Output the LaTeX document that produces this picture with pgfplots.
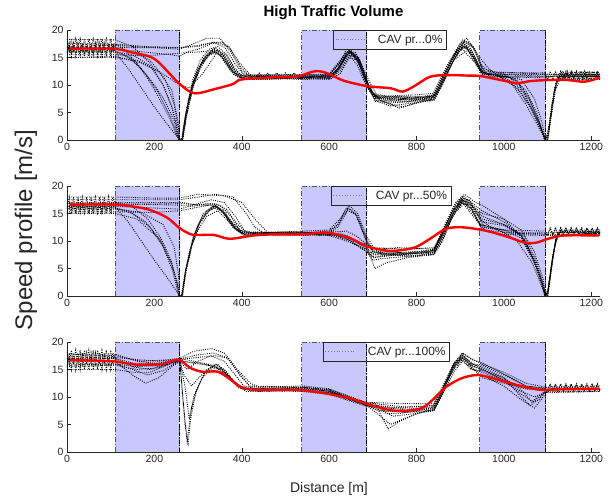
\documentclass[border=0pt]{standalone}
\usepackage{fontspec}
\setmainfont{Liberation Sans}
\usepackage{pgfplots}
\pgfplotsset{compat=1.18}
\definecolor{axgray}{HTML}{262626}
\definecolor{boxfill}{RGB}{200,200,255}
\definecolor{boxedge}{HTML}{555555}
\pgfplotsset{
  panel/.style={
    scale only axis, width=533pt, height=110pt,
    xmin=0, xmax=1220, ymin=0, ymax=20,
    xtick={0,200,...,1200}, ytick={0,5,...,20},
    axis x line*=bottom, axis y line*=left,
    axis line style={draw=axgray, line width=0.5pt, -},
    tick style={draw=axgray, line width=0.5pt}, tick align=inside,
    major tick length=4pt,
    tick label style={font=\fontsize{10.5}{12}\selectfont, text=axgray},
    /pgf/number format/assume math mode=true,
    /pgf/number format/1000 sep={},
    no markers,
    legend style={anchor=north west, draw=axgray, fill=none,
      font=\fontsize{12}{14}\selectfont, text=axgray,
      inner xsep=2pt, inner ysep=2.5pt, legend cell align=left},
    legend image code/.code={\draw[#1] (0pt,0pt) -- (30pt,0pt); \path (40pt,0pt);},
  },
  traj/.style={black, dash pattern=on 0.9pt off 1.3pt, line width=0.9pt, forget plot},
  mean/.style={red, line width=2.4pt, smooth, forget plot},
  zone/.style={fill=boxfill, draw=boxedge,
    dash pattern=on 5pt off 2pt on 1pt off 2pt, line width=0.8pt, forget plot},
  light/.style={black, dash pattern=on 4pt off 1.5pt on 1pt off 1.5pt, line width=0.6pt, forget plot},
}
\begin{document}
\begin{tikzpicture}
\useasboundingbox (0,0) rectangle (614pt,502pt);

% ---------- panel 1 : 0 % ----------
\begin{axis}[panel, at={(67pt,362pt)}, anchor=south west,
  legend style={at={(0.499,1)}}]
\addplot[zone] coordinates {(110,0)(110,20)(258,20)(258,0)(110,0)};
\addplot[zone] coordinates {(537,0)(537,20)(685,20)(685,0)(537,0)};
\addplot[zone] coordinates {(945,0)(945,20)(1095,20)(1095,0)(945,0)};
\addplot[traj] coordinates {(0,15.2)(5,17.6)(10,15.2)(15,17.6)(20,15.2)(25,17.6)(30,15.2)(35,17.6)(40,15.2)(45,17.6)(50,15.2)(55,17.6)(60,15.2)(65,17.6)(70,15.2)(75,17.6)(80,15.2)(85,17.6)(90,15.2)(95,17.6)(100,15.2)(105,17.6)(110,16)(140,15)(170,13)(200,10)(225,7)(245,3.5)(256,0)(262,0)(268,3)(280,8)(295,12)(315,15)(335,16.2)(350,15.5)(370,13)(390,11.5)(410,11.2)(450,11.5)(500,11.3)(560,11.6)(600,11.4)(620,13)(645,16.3)(665,14.5)(685,10)(700,8)(730,7.2)(800,7.5)(835,8)(860,12)(885,15.5)(910,17.2)(930,15)(950,12)(980,11.8)(1010,11)(1040,8.5)(1065,5.5)(1085,2)(1095,0)(1100,0.5)(1108,5)(1118,9.5)(1128,11.8)(1220,11.8)};
\addplot[traj] coordinates {(0,18.4)(5,16.3)(10,18.4)(15,16.3)(20,18.4)(25,16.3)(30,18.4)(35,16.3)(40,18.4)(45,16.3)(50,18.4)(55,16.3)(60,18.4)(65,16.3)(70,18.4)(75,16.3)(80,18.4)(85,16.3)(90,18.4)(95,16.3)(100,18.4)(105,16.3)(110,17.5)(130,16.5)(160,14)(190,10.5)(215,7)(235,4)(250,1)(257,0)(263,0)(270,4)(285,9.5)(300,13)(320,15.5)(340,16.8)(360,15)(380,12.5)(400,11.3)(480,11.6)(540,11.3)(600,11.8)(625,14)(640,16.6)(660,15.5)(680,11.5)(700,8.5)(720,7.5)(780,7)(840,7.8)(860,11)(880,14.5)(905,17.8)(925,16.5)(945,13)(960,12)(1000,12)(1030,10.5)(1060,7)(1080,3.5)(1094,0)(1102,1)(1110,6.5)(1120,10.5)(1130,11.2)(1220,11.2)};
\addplot[traj] coordinates {(0,15.5)(110,15.5)(180,15.3)(258,15.8)(300,16)(340,16.3)(365,15.5)(385,13)(400,11.5)(420,11)(480,11.2)(540,11)(600,11.2)(630,14)(648,16.2)(670,14)(690,9.5)(710,7.5)(760,5.8)(790,6.5)(840,7.5)(865,12)(895,16.5)(915,16.8)(940,13.5)(955,12)(1000,11.5)(1095,11.3)(1120,11.7)(1130,11)(1135,12.5)(1140,11)(1145,12.5)(1150,11)(1155,12.5)(1160,11)(1165,12.5)(1170,11)(1175,12.5)(1180,11)(1185,12.5)(1190,11)(1195,12.5)(1200,11)(1205,12.5)(1210,11)(1215,12.5)(1220,11)};
\addplot[traj] coordinates {(0,17)(110,17.2)(200,16.8)(258,16.5)(290,17.5)(320,18.5)(350,18.5)(375,16)(400,12.5)(420,11.6)(480,11.8)(540,11.7)(600,11.9)(630,14.5)(650,16)(675,13)(695,9)(720,7)(770,6)(810,7)(845,8.5)(870,13)(900,17.5)(915,18.5)(935,16)(955,12.5)(1000,12.3)(1095,12)(1220,11.8)};
\addplot[traj] coordinates {(0,16)(110,16)(150,15.5)(190,13.5)(220,10)(240,6)(252,2)(258,0)(264,0)(275,6)(290,10.5)(310,14)(330,15.8)(345,16)(360,14.5)(380,12)(400,11)(460,11)(540,11.4)(605,11.2)(625,13.5)(643,15.8)(665,13.5)(685,9.8)(705,7.5)(760,7.6)(830,7.2)(850,9)(875,13)(900,16.5)(920,16)(945,12.5)(970,11.5)(1020,11.4)(1050,9)(1075,5)(1092,0.5)(1096,0)(1104,3)(1115,9)(1125,12)(1220,12)};
\addplot[traj] coordinates {(0,15)(110,15.2)(170,14)(220,12)(258,10)(280,9.5)(310,12)(340,15.5)(360,15.5)(380,13)(400,11.8)(540,11.5)(600,11.3)(625,12.5)(645,15)(665,14.5)(685,10.5)(705,7)(760,6.8)(840,7.3)(860,10.5)(885,14.5)(910,16)(935,14)(955,11.5)(1095,11.5)(1220,11.5)};
\addplot[traj] coordinates {(0,15.8)(5,17)(10,15.8)(15,17)(20,15.8)(25,17)(30,15.8)(35,17)(40,15.8)(45,17)(50,15.8)(55,17)(60,15.8)(65,17)(70,15.8)(75,17)(80,15.8)(85,17)(90,15.8)(95,17)(100,15.8)(105,17)(110,16.5)(150,16.2)(200,15.8)(240,15.5)(258,15.2)(275,16)(300,16.5)(330,17.5)(355,17.8)(375,16.5)(395,13.5)(415,11.8)(430,11.2)(440,12.2)(450,11.2)(460,12.2)(470,11.2)(480,12.2)(490,11.2)(500,12.2)(510,11.2)(520,12.2)(530,11.2)(540,11.5)(600,11.5)(620,12.5)(640,15.5)(665,15)(685,11)(700,8.5)(730,8)(800,8.2)(840,8.5)(860,11.5)(885,15)(910,18)(930,17)(950,13.5)(970,12.2)(1095,12.2)(1100,11)(1106,12.5)(1112,11)(1118,12.5)(1124,11)(1130,12.5)(1136,11)(1142,12.5)(1148,11)(1154,12.5)(1160,11)(1166,12.5)(1172,11)(1178,12.5)(1184,11)(1190,12.5)(1196,11)(1202,12.5)(1208,11)(1214,12.5)(1220,11)};
\addplot[traj] coordinates {(0,16.8)(110,16.8)(258,16.8)(300,17.2)(340,17.8)(370,17)(395,14)(420,11.8)(540,11.8)(600,12)(640,16)(660,16)(690,11)(710,8)(800,7.8)(840,8.2)(870,13.5)(905,18.2)(925,17.5)(945,15)(965,13)(990,11.5)(1030,9.5)(1060,6)(1085,2)(1093,0)(1100,0)(1106,3.5)(1118,10)(1130,12.3)(1220,12.3)};
\addplot[traj] coordinates {(0,18.3)(110,18.2)(150,17)(190,14)(220,10)(240,6)(250,3)(256,0.5)(258,0)(264,0)(272,5)(288,11)(305,14.5)(325,16.5)(345,17)(365,15.5)(385,12.5)(405,11)(540,11.2)(600,11)(625,12)(650,15.5)(672,14)(690,10)(710,7)(740,6.2)(800,6.8)(840,7.2)(860,10)(890,15.5)(912,17)(935,14.5)(955,12)(1000,11.5)(1040,11)(1070,7.5)(1088,3)(1095,0)(1100,0)(1108,4)(1118,9)(1128,11)(1220,11)};
\addplot[traj] coordinates {(0,15)(110,15)(160,14.5)(210,12.5)(240,9)(255,3)(258,0)(265,0.5)(275,5)(290,10)(305,13)(325,15.5)(345,15.8)(365,14)(385,12)(410,11.5)(540,11.6)(610,11.6)(630,13.5)(650,16)(668,15)(688,10.5)(705,7.8)(780,7.5)(840,8)(858,10.5)(880,14)(905,16.8)(920,17)(942,14)(960,12)(1095,11.6)(1220,11.6)};
\addplot[traj] coordinates {(0,16.2)(110,16.2)(145,15)(180,12)(210,8.5)(235,4.5)(250,1.5)(257,0)(263,0)(270,3.5)(283,8.5)(298,12.5)(318,15.2)(338,16)(355,15.2)(375,12.8)(395,11.6)(540,11.5)(605,11.5)(628,13.8)(646,16)(668,14.2)(686,10.2)(703,8)(750,7.3)(835,7.6)(856,10.5)(882,15)(907,17.6)(928,15.8)(948,12.5)(975,11.9)(1015,11.3)(1045,8.5)(1072,4.5)(1090,1)(1095,0)(1101,1)(1110,6)(1120,10.5)(1130,11.5)(1220,11.5)};
\addplot[traj] coordinates {(0,17.5)(110,17.4)(180,17)(258,16.8)(300,17)(335,17.8)(362,16.8)(385,13.8)(405,11.8)(540,11.9)(600,11.7)(630,14.8)(650,16.3)(670,14.5)(690,10)(708,7.8)(780,7.8)(840,7.9)(862,11.5)(888,16)(910,17.8)(930,16.8)(950,13)(1000,11.9)(1095,11.9)(1220,11.9)};
\addplot[traj] coordinates {(0,16.5)(110,16.5)(150,16)(190,14.5)(225,11)(245,6.5)(255,2)(258,0)(265,0)(273,4)(288,9.5)(305,13.5)(328,15.9)(348,16.3)(368,14.3)(390,11.9)(420,11.4)(540,11.3)(600,11.6)(622,13)(642,16.1)(662,15)(683,10.8)(700,8.2)(740,7.8)(840,7.7)(858,10)(880,13.8)(905,17)(925,16.2)(948,12.2)(1000,11.7)(1030,10.8)(1058,7.5)(1082,3)(1095,0)(1100,0)(1107,3.8)(1117,9.5)(1127,11.6)(1220,11.6)};
\addplot[traj] coordinates {(0,16)(110,16)(140,13)(170,9.5)(200,6)(228,3)(248,1)(258,0)(264,0)(272,4.5)(290,10.8)(312,14.8)(335,16.6)(355,15.8)(378,12.6)(400,11.2)(540,11.2)(600,11.3)(625,13.2)(645,16.2)(666,14.8)(688,10)(706,7.2)(760,7)(838,7.4)(858,10.8)(882,14.8)(906,17.2)(928,15.5)(950,12.2)(990,11.6)(1020,10)(1050,6.5)(1075,3)(1095,0)(1102,1.5)(1112,7.5)(1124,11.5)(1220,11.5)};
\addplot[light] coordinates {(258,0)(258,20)};
\addplot[light] coordinates {(685,0)(685,20)};
\addplot[light] coordinates {(1095,0)(1095,20)};
\addplot[mean] coordinates {(6,16.6)(104,16.6)(150,15.9)(201,14.7)(255,10.4)(291,8.5)(340,9.3)(381,10.2)(399,11)(471,11.4)(525,11.5)(561,12.4)(578,12.5)(597,12.1)(633,10.8)(687,9.8)(741,9.4)(768,8.8)(795,9.8)(831,11.5)(870,11.8)(921,11.7)(948,11.6)(1011,10.6)(1029,10.3)(1060,10.7)(1101,10.9)(1146,10.9)(1185,10.6)(1218,11.3)};
\addlegendimage{gray, dotted, line width=0.8pt}
\addlegendentry{CAV pr...0\%\hspace{16pt}}
\end{axis}

% ---------- panel 2 : 50 % ----------
\begin{axis}[panel, at={(67pt,206pt)}, anchor=south west,
  legend style={at={(0.495,1)}}]
\addplot[zone] coordinates {(110,0)(110,20)(258,20)(258,0)(110,0)};
\addplot[zone] coordinates {(537,0)(537,20)(685,20)(685,0)(537,0)};
\addplot[zone] coordinates {(945,0)(945,20)(1095,20)(1095,0)(945,0)};
\addplot[traj] coordinates {(0,15.5)(5,18)(10,15.5)(15,18)(20,15.5)(25,18)(30,15.5)(35,18)(40,15.5)(45,18)(50,15.5)(55,18)(60,15.5)(65,18)(70,15.5)(75,18)(80,15.5)(85,18)(90,15.5)(95,18)(100,15.5)(105,18)(110,17)(200,17)(258,17)(262,17)(300,16.5)(330,16.5)(345,16)(370,14)(395,12)(420,11.3)(540,11.4)(600,11.5)(620,13)(640,16)(660,15)(685,10)(700,8)(730,7.5)(800,7.2)(840,8)(860,12)(885,15.5)(905,17.5)(925,16)(945,13)(1000,12)(1040,10.5)(1070,6)(1090,1.5)(1095,0)(1100,0.5)(1110,6)(1120,10.5)(1130,11.8)(1220,11.8)};
\addplot[traj] coordinates {(0,16)(110,16)(150,15)(190,12.5)(220,9)(242,4.5)(256,0)(262,0)(268,3)(280,8)(298,12.5)(320,15.5)(340,16.5)(360,15)(385,12.2)(405,11)(540,11.2)(600,11)(640,10)(685,8.5)(700,7)(740,7.5)(800,8)(840,8.5)(860,12)(885,16)(905,18)(925,17)(945,14)(970,12.5)(1000,11.5)(1095,11.3)(1100,11)(1106,12.3)(1112,11)(1118,12.3)(1124,11)(1130,12.3)(1136,11)(1142,12.3)(1148,11)(1154,12.3)(1160,11)(1166,12.3)(1172,11)(1178,12.3)(1184,11)(1190,12.3)(1196,11)(1202,12.3)(1208,11)(1214,12.3)(1220,11)};
\addplot[traj] coordinates {(0,17.5)(110,17.5)(258,17.5)(300,18)(340,18.5)(380,18)(410,15)(430,12.5)(450,11.5)(540,11.8)(600,12)(625,14)(645,16.5)(665,15)(685,11)(700,9)(720,7.5)(800,7.8)(840,8.2)(865,13)(890,17)(910,18.5)(935,17)(950,16.5)(1000,14)(1050,10)(1080,4)(1094,0)(1100,0)(1108,4.5)(1118,10)(1130,12)(1220,12)};
\addplot[traj] coordinates {(0,15)(110,15)(160,14)(210,10.5)(240,6)(252,2)(258,0)(263,0)(272,5)(290,11)(310,14.5)(335,16)(355,15.5)(375,13)(400,11.5)(540,11)(600,11.3)(640,11)(685,9)(705,5)(730,6)(780,7)(840,7.5)(860,10)(880,14)(905,17)(925,15)(950,12.5)(990,12)(1030,10)(1065,6)(1088,1.5)(1095,0)(1102,1.5)(1112,7.5)(1125,11.5)(1220,11.5)};
\addplot[traj] coordinates {(0,16.8)(110,16.8)(258,16.5)(290,16.3)(320,16.8)(350,16.5)(375,14.5)(395,12)(420,11.5)(540,11.6)(600,11.5)(640,10.5)(685,8)(705,7)(760,7.5)(840,7.8)(862,11)(885,15)(905,17.2)(925,16)(950,12)(1000,11.2)(1095,11)(1220,11)};
\addplot[traj] coordinates {(0,16.3)(110,16.3)(200,16)(258,15.8)(300,16.8)(330,17.5)(360,17)(385,14.5)(405,12)(430,11.3)(540,11.3)(580,11.5)(610,11)(650,10)(685,9.5)(705,8.5)(760,8.8)(840,8.5)(860,11)(885,15)(905,17.5)(925,16.5)(950,14.5)(1000,13)(1040,11)(1070,6.5)(1090,2)(1095,0)(1100,0)(1108,5)(1120,11)(1220,11.5)};
\addplot[traj] coordinates {(0,15)(5,16.5)(10,15)(15,16.5)(20,15)(25,16.5)(30,15)(35,16.5)(40,15)(45,16.5)(50,15)(55,16.5)(60,15)(65,16.5)(70,15)(75,16.5)(80,15)(85,16.5)(90,15)(95,16.5)(100,15)(105,16.5)(110,16)(140,15.5)(180,13.5)(215,10)(238,6)(252,2.5)(258,0)(264,0)(272,4.5)(288,10)(305,13.5)(325,15.5)(345,16.2)(365,14.5)(388,12)(410,11.2)(540,11.5)(600,11.8)(620,13)(645,16)(665,14.5)(685,10.5)(700,8)(760,7.5)(830,8)(850,9.5)(875,13.5)(900,17)(920,17.5)(940,15)(955,12.5)(1000,12)(1095,11.8)(1100,11.2)(1106,12.4)(1112,11.2)(1118,12.4)(1124,11.2)(1130,12.4)(1136,11.2)(1142,12.4)(1148,11.2)(1154,12.4)(1160,11.2)(1166,12.4)(1172,11.2)(1178,12.4)(1184,11.2)(1190,12.4)(1196,11.2)(1202,12.4)(1208,11.2)(1214,12.4)(1220,11.2)};
\addplot[traj] coordinates {(0,18)(110,18)(200,17.8)(258,17.8)(300,18.5)(360,18.2)(400,17)(430,14)(460,11.5)(540,11.5)(600,11.6)(640,11.8)(660,11)(685,9.5)(700,8.8)(780,8.5)(840,8.8)(870,13)(900,17.5)(920,17)(950,15)(1000,14)(1040,12)(1070,8)(1090,3)(1095,0)(1100,0)(1106,3)(1116,9)(1128,11.7)(1220,11.7)};
\addplot[traj] coordinates {(0,15.8)(110,15.8)(170,15.2)(220,13)(245,9)(255,4)(258,0)(262,0)(270,4)(285,9)(300,12)(320,14.5)(345,15.5)(370,13.5)(395,11.5)(540,11.2)(600,11)(625,11.5)(650,10.5)(685,8.5)(700,7.5)(780,7.3)(840,7.6)(860,10.5)(885,15)(910,16.8)(930,15)(955,12)(1000,11.6)(1050,11.3)(1095,11.2)(1220,11.2)};
\addplot[traj] coordinates {(0,16.5)(110,16.6)(258,16.8)(300,16.6)(340,16.8)(365,15.8)(388,13.2)(410,11.6)(540,11.4)(600,11.4)(620,12.5)(642,15.5)(662,14.8)(685,10.2)(702,8.2)(780,7.8)(840,8.2)(862,11.8)(886,15.8)(906,17.8)(926,16.5)(948,13.5)(1000,12.8)(1040,11)(1068,7)(1088,2.5)(1095,0)(1101,1)(1110,6)(1120,10.6)(1130,11.6)(1220,11.6)};
\addplot[traj] coordinates {(0,17)(110,17)(150,16.2)(185,14)(215,10.5)(238,6.5)(252,2.5)(258,0)(264,0)(272,4.2)(287,9.5)(304,13.2)(325,15.6)(342,16.4)(362,15)(386,12.3)(408,11.1)(540,11.1)(600,11.2)(640,10.8)(685,8.8)(702,7.6)(760,7.9)(840,8.3)(860,11.5)(884,15.6)(904,17.5)(924,16.5)(946,13)(980,12.3)(1030,11.5)(1095,11.5)(1220,11.5)};
\addplot[traj] coordinates {(0,15.3)(110,15.3)(200,15.2)(258,15.5)(290,16)(330,16.6)(355,15.8)(380,13.2)(402,11.6)(540,11.6)(600,11.3)(645,10.2)(685,8.2)(700,6.5)(720,6.8)(780,7.2)(840,7.6)(862,10.8)(886,15.2)(906,17)(926,15.8)(950,14)(1000,13)(1045,11)(1072,6.8)(1090,2.2)(1095,0)(1100,0)(1109,5.5)(1120,10.8)(1220,11.6)};
\addplot[traj] coordinates {(0,16.2)(110,16.2)(140,13.5)(170,10)(200,6.5)(228,3.5)(248,1.2)(258,0)(264,0)(272,4.8)(290,11)(312,15)(335,16.4)(356,15.4)(380,12.4)(402,11.3)(540,11.3)(600,11.2)(645,10.6)(685,9.2)(705,8)(770,7.6)(840,8)(862,12)(886,16.4)(906,18.2)(926,17)(950,15.5)(1000,13.5)(1040,10.8)(1068,6.5)(1088,2)(1095,0)(1101,1.2)(1111,6.8)(1122,11)(1220,11.4)};
\addplot[light] coordinates {(258,0)(258,20)};
\addplot[light] coordinates {(685,0)(685,20)};
\addplot[light] coordinates {(1095,0)(1095,20)};
\addplot[mean] coordinates {(6,16.6)(111,16.6)(183,15.8)(228,14.3)(255,12.5)(273,11.6)(291,11.1)(336,11.1)(372,10.4)(426,11)(471,11.2)(534,11.2)(597,11.5)(651,10.4)(687,9)(741,8.2)(795,8.8)(831,10.4)(867,12.2)(903,12.5)(957,11.9)(1011,10.7)(1047,9.7)(1074,9.7)(1101,10.4)(1137,11)(1218,11)};
\addlegendimage{gray, dotted, line width=0.8pt}
\addlegendentry{CAV pr...50\%\hspace{14pt}}
\end{axis}

% ---------- panel 3 : 100 % ----------
\begin{axis}[panel, at={(67pt,50pt)}, anchor=south west,
  legend style={at={(0.48,1)}}]
\addplot[zone] coordinates {(110,0)(110,20)(258,20)(258,0)(110,0)};
\addplot[zone] coordinates {(537,0)(537,20)(685,20)(685,0)(537,0)};
\addplot[zone] coordinates {(945,0)(945,20)(1095,20)(1095,0)(945,0)};
\addplot[traj] coordinates {(0,15)(5,18)(10,15)(15,18)(20,15)(25,18)(30,15)(35,18)(40,15)(45,18)(50,15)(55,18)(60,15)(65,18)(70,15)(75,18)(80,15)(85,18)(90,15)(95,18)(100,15)(105,18)(110,17)(150,15.5)(190,15)(230,16)(258,17)(290,16.5)(320,16)(350,15.5)(375,13.5)(400,11.5)(440,11)(540,11.3)(600,10.8)(685,9)(705,8.8)(730,7)(760,7)(800,7.5)(835,8)(860,12)(885,16)(905,17.2)(925,15.5)(950,13.5)(1000,12.5)(1050,11.5)(1095,11.3)(1100,11)(1106,12.3)(1112,11)(1118,12.3)(1124,11)(1130,12.3)(1136,11)(1142,12.3)(1148,11)(1154,12.3)(1160,11)(1166,12.3)(1172,11)(1178,12.3)(1184,11)(1190,12.3)(1196,11)(1202,12.3)(1208,11)(1214,12.3)(1220,11)};
\addplot[traj] coordinates {(0,16.5)(110,16.5)(150,14)(180,12.5)(210,13.5)(240,15.5)(258,16.5)(275,15)(300,16.5)(330,17.5)(360,16.5)(385,14)(405,12)(430,11.5)(540,11.8)(600,11)(685,8.5)(710,8)(735,4.2)(760,5.5)(800,7)(840,7.5)(860,11)(885,15.5)(905,17.8)(925,16)(950,15.5)(1000,13.5)(1040,10)(1060,8.5)(1080,9.5)(1095,11)(1110,11.5)(1220,11.5)};
\addplot[traj] coordinates {(0,15.5)(110,15.8)(160,15)(210,15.3)(258,16.8)(265,10)(275,2)(285,8)(300,12)(320,15)(345,16)(365,14)(390,12)(420,11.2)(540,11)(600,10.5)(685,8.3)(700,8.5)(740,8)(800,8.2)(840,8.5)(860,11.5)(885,15)(905,16.8)(925,15)(950,14.8)(1000,13)(1050,11.5)(1095,11.2)(1220,11.5)};
\addplot[traj] coordinates {(0,17.8)(110,17.5)(170,16.5)(220,16.7)(258,17)(290,18.3)(330,18.8)(360,18)(390,15)(420,12.5)(440,11.8)(540,12)(600,11.5)(685,9)(705,9)(760,8.8)(840,8.8)(862,12)(885,16)(905,18)(925,17)(950,16)(1000,14.5)(1050,12.5)(1095,11.8)(1220,12)};
\addplot[traj] coordinates {(0,15)(110,15)(150,14.5)(190,14.5)(230,15.8)(258,16.5)(270,12)(280,6)(290,10)(310,13.5)(335,15.5)(360,15)(385,12.5)(410,11)(540,11.2)(600,10.8)(685,8.5)(710,7)(740,5)(770,6)(810,7.2)(840,7.8)(865,12.5)(890,16.5)(910,17)(930,15)(950,14)(1000,12)(1040,9.5)(1070,8)(1090,10)(1100,11)(1220,11)};
\addplot[traj] coordinates {(0,18.5)(5,16)(10,18.5)(15,16)(20,18.5)(25,16)(30,18.5)(35,16)(40,18.5)(45,16)(50,18.5)(55,16)(60,18.5)(65,16)(70,18.5)(75,16)(80,18.5)(85,16)(90,18.5)(95,16)(100,18.5)(105,16)(110,17.8)(160,16.5)(210,16)(258,16.8)(300,17.2)(340,17.5)(370,17)(395,14)(420,11.8)(540,11.8)(600,11.3)(685,8.7)(705,8.5)(780,7.8)(840,8.2)(862,11.5)(885,15.8)(905,17.5)(930,16)(950,15.8)(1000,14)(1050,12)(1095,11.5)(1100,11.2)(1106,12.4)(1112,11.2)(1118,12.4)(1124,11.2)(1130,12.4)(1136,11.2)(1142,12.4)(1148,11.2)(1154,12.4)(1160,11.2)(1166,12.4)(1172,11.2)(1178,12.4)(1184,11.2)(1190,12.4)(1196,11.2)(1202,12.4)(1208,11.2)(1214,12.4)(1220,11.2)};
\addplot[traj] coordinates {(0,16)(110,16)(160,15.5)(210,15.8)(258,16.5)(300,16.2)(340,15.5)(370,13.5)(395,11.5)(540,11.5)(600,11)(685,8.7)(710,7.5)(780,7.2)(840,7.6)(860,10.5)(885,14.5)(905,16.5)(930,15)(950,14.5)(1000,12.8)(1040,11)(1070,10)(1095,10.8)(1220,11)};
\addplot[traj] coordinates {(0,17)(110,17)(160,16)(210,16.2)(258,16.8)(270,5)(277,1.5)(283,6)(295,11)(315,14.5)(340,16)(360,15)(385,12.5)(410,11.3)(540,11.6)(600,11.2)(685,8.5)(720,7.5)(790,7.4)(840,7.9)(860,11)(885,15.5)(905,17)(930,15.5)(950,15)(1000,13.5)(1040,11.3)(1065,9)(1090,10.5)(1100,11.3)(1220,11.3)};
\addplot[traj] coordinates {(0,16.8)(110,16.6)(160,15.8)(210,15.6)(258,16.7)(285,16.2)(320,15.8)(350,15.2)(378,13.2)(402,11.5)(540,11.4)(600,11.1)(685,8.8)(710,8.2)(780,7.6)(840,8)(860,11.2)(885,15.2)(905,17.2)(925,15.8)(950,15)(1000,13.2)(1045,11.8)(1095,11.4)(1220,11.4)};
\addplot[traj] coordinates {(0,15.8)(110,16)(150,15)(185,14)(220,14.8)(258,16.6)(268,14)(285,12)(305,13.8)(330,15.4)(355,14.8)(380,12.8)(405,11.4)(540,11.1)(600,10.7)(685,8.5)(715,8)(745,6.5)(780,6.8)(840,7.6)(862,11)(886,15.5)(906,17.5)(928,16)(950,15.2)(1000,13)(1040,10.5)(1065,9.2)(1090,10.8)(1110,11.4)(1220,11.4)};
\addplot[traj] coordinates {(0,17.3)(110,17.2)(160,16.8)(210,16.5)(258,16.9)(295,17.6)(335,18)(365,17.2)(392,14.5)(418,12)(540,11.7)(600,11.4)(685,8.8)(705,8.8)(770,8.2)(840,8.4)(862,11.8)(886,16.2)(906,18)(926,16.8)(950,16.2)(1000,14.2)(1050,12)(1095,11.6)(1220,11.6)};
\addplot[light] coordinates {(258,0)(258,20)};
\addplot[light] coordinates {(685,0)(685,20)};
\addplot[light] coordinates {(1095,0)(1095,20)};
\addplot[mean] coordinates {(6,16.7)(103,16.5)(156,15.9)(219,16)(255,16.8)(282,15.3)(309,14.6)(345,14.6)(372,13.3)(399,11.8)(435,11.3)(525,11.3)(588,10.7)(651,9.7)(687,8.7)(741,7.6)(777,7.5)(813,8)(840,9.7)(867,11.8)(903,13.4)(939,14)(975,13.4)(1029,12.2)(1083,11.3)(1128,11.4)(1218,11.5)};
\addlegendimage{gray, dotted, line width=0.8pt}
\addlegendentry{CAV pr...100\%\hspace{14pt}}
\end{axis}

\node[font=\fontsize{15}{18}\selectfont\bfseries, text=black] at (333.5pt,489pt) {High Traffic Volume};
\node[font=\fontsize{14}{16}\selectfont, text=axgray] at (329pt,13pt) {Distance [m]};
\node[font=\fontsize{24}{28}\selectfont, text=axgray, rotate=90] at (26pt,272pt) {Speed profile [m/s]};
\end{tikzpicture}
\end{document}
